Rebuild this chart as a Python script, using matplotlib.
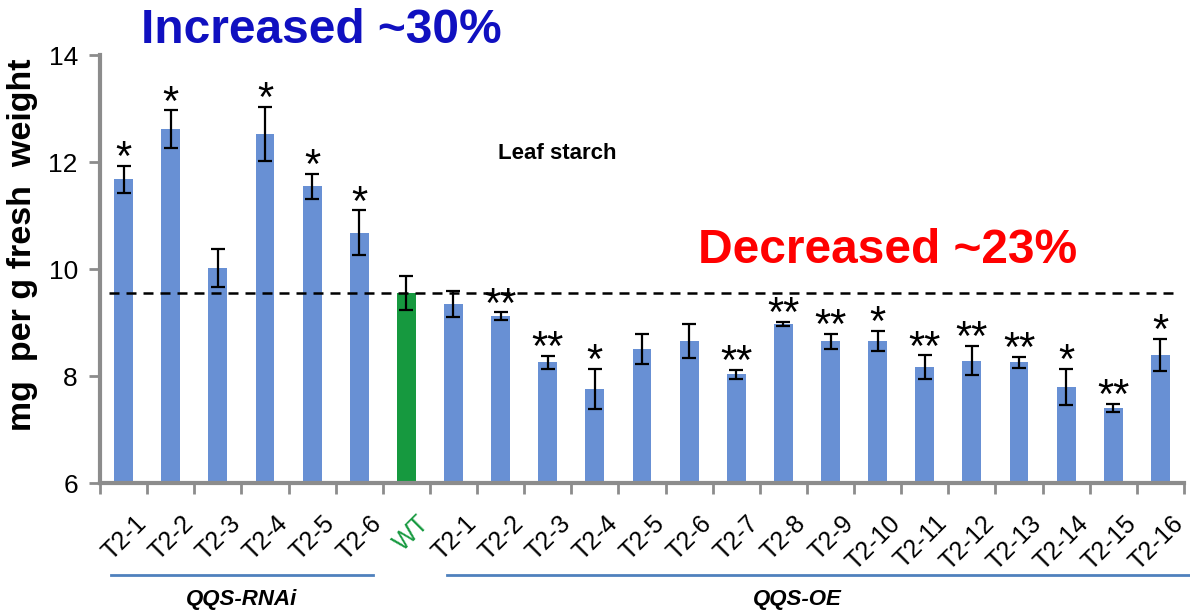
import matplotlib
matplotlib.use('Agg')
import matplotlib.pyplot as plt
import matplotlib.transforms as mtransforms

plt.rcParams['font.family'] = ['Liberation Sans', 'DejaVu Sans']

# leaf starch, mg per g fresh weight
rnai_labels = ['T2-1', 'T2-2', 'T2-3', 'T2-4', 'T2-5', 'T2-6']
rnai_mean = [11.68, 12.62, 10.02, 12.53, 11.55, 10.68]
rnai_err = [0.25, 0.35, 0.35, 0.50, 0.23, 0.42]
rnai_sig = ['*', '*', '', '*', '*', '*']

wt_mean = 9.56
wt_err = 0.32

oe_labels = ['T2-%d' % i for i in range(1, 17)]
oe_mean = [9.35, 9.12, 8.26, 7.76, 8.50, 8.65, 8.03, 8.97,
           8.65, 8.65, 8.17, 8.29, 8.26, 7.80, 7.40, 8.39]
oe_err = [0.25, 0.07, 0.12, 0.38, 0.28, 0.32, 0.08, 0.04,
          0.14, 0.19, 0.22, 0.27, 0.10, 0.34, 0.08, 0.30]
oe_sig = ['', '**', '**', '*', '', '', '**', '**',
          '**', '*', '**', '**', '**', '*', '**', '*']

labels = rnai_labels + ['WT'] + oe_labels
means = rnai_mean + [wt_mean] + oe_mean
errs = rnai_err + [wt_err] + oe_err
sigs = rnai_sig + [''] + oe_sig

blue = '#6890d4'
green = '#16993f'
grey = '#8c8c8c'
colors = [blue] * len(rnai_mean) + [green] + [blue] * len(oe_mean)
x = list(range(len(labels)))

fig = plt.figure(figsize=(11.9, 6.13), dpi=100)
ax = fig.add_axes([100 / 1190, 0.212, 1084 / 1190, 0.698])

ax.bar(x, [m - 6 for m in means], bottom=6, width=0.4, color=colors, zorder=2)
ax.errorbar(x, means, yerr=errs, fmt='none', ecolor='black', elinewidth=1.6,
            capsize=5, capthick=1.6, zorder=3)

# linia WT
ax.plot([-0.3, 22.3], [wt_mean, wt_mean], color='black', lw=1.8,
        dashes=(4, 2.8), zorder=4)

for xi, m, e, s in zip(x, means, errs, sigs):
    if s:
        ax.text(xi, m + e - 0.08, s, ha='center', va='baseline', fontsize=30,
                color='black', zorder=5)

ax.set_xlim(-0.5, 22.5)
ax.set_ylim(6, 14)
ax.set_yticks([6, 8, 10, 12, 14])
ax.set_yticklabels(['6', '8', '10', '12', '14'], fontsize=19)

# podpisy osi x rysowane recznie (przesuniete jak w oryginale)
ax.set_xticks([i - 0.5 for i in range(len(labels) + 1)])
ax.set_xticklabels([])
tr = mtransforms.blended_transform_factory(ax.transData, ax.transAxes)
shift = mtransforms.ScaledTranslation(0.19, -0.365, fig.dpi_scale_trans)
for xi, lab in zip(x, labels):
    ax.text(xi, 0, lab, transform=tr + shift, rotation=45, ha='right',
            va='center', rotation_mode='anchor', fontsize=18,
            color=green if lab == 'WT' else 'black', clip_on=False)

ax.tick_params(axis='x', length=8, width=2, color=grey)
ax.tick_params(axis='y', length=8, width=2, color=grey, pad=8)

for side in ['top', 'right']:
    ax.spines[side].set_visible(False)
for side in ['left', 'bottom']:
    ax.spines[side].set_color(grey)
    ax.spines[side].set_linewidth(3)

ax.set_ylabel('mg  per g fresh  weight', fontsize=24.5, fontweight='bold')
ax.yaxis.set_label_coords(-0.057, 0.556)

# grupy
ax.plot([-0.27, 5.29], [-0.215, -0.215], color='#4f81bd', lw=2, transform=tr, clip_on=False)
ax.plot([6.86, 22.63], [-0.215, -0.215], color='#4f81bd', lw=2, transform=tr, clip_on=False)
ax.text(2.5, -0.273, 'QQS-RNAi', transform=tr, ha='center', va='center',
        fontsize=16, fontweight='bold', style='italic')
ax.text(14.3, -0.273, 'QQS-OE', transform=tr, ha='center', va='center',
        fontsize=16, fontweight='bold', style='italic')

fig.text(0.27, 0.951, 'Increased ~30%', color='#1010c0', fontsize=34.5,
         fontweight='bold', ha='center', va='center')
fig.text(0.746, 0.592, 'Decreased ~23%', color='#ff0000', fontsize=34.5,
         fontweight='bold', ha='center', va='center')
fig.text(0.468, 0.75, 'Leaf starch', color='black', fontsize=16,
         fontweight='bold', ha='center', va='center')

fig.savefig('out.png', dpi=100)
